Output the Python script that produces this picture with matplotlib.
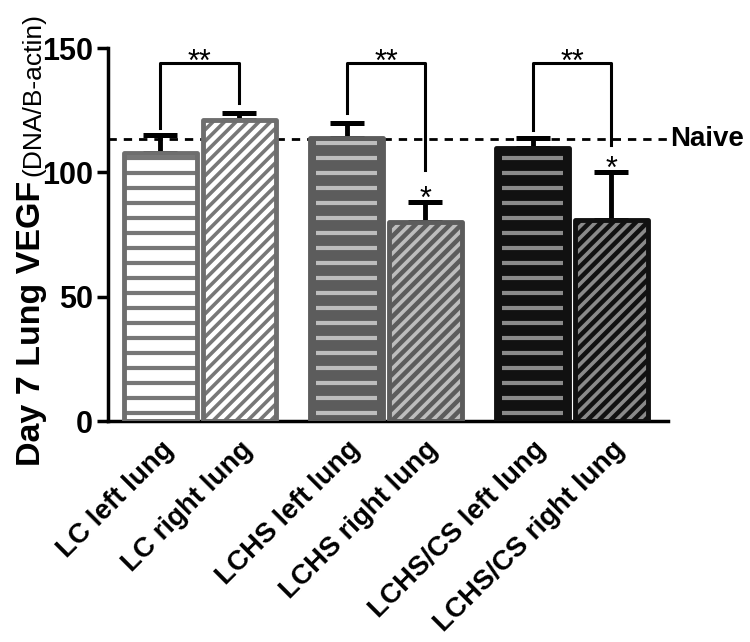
import matplotlib.pyplot as plt
import matplotlib.transforms as mtransforms
import numpy as np

labels = ['LC left lung', 'LC right lung', 'LCHS left lung', 'LCHS right lung',
          'LCHS/CS left lung', 'LCHS/CS right lung']
means = [108, 121, 114, 80, 110, 81]
errs = [7, 3, 6, 8, 4, 19]
naive = 113.5
# brackets: (left bar, right bar, left leg end, right leg end)
brackets = [(0, 1, 118, 128), (2, 3, 124, 101), (4, 5, 117, 111)]
single_star = [3, 5]

x = np.array([0, 1, 2.36, 3.36, 4.72, 5.72])
faces = ['white', 'white', '#5c5c5c', '#5c5c5c', '#111111', '#111111']
hatchcol = ['#777777', '#777777', '#bdbdbd', '#bdbdbd', '#8a8a8a', '#8a8a8a']
edges = ['#6e6e6e', '#6e6e6e', '#5c5c5c', '#5c5c5c', '#111111', '#111111']
diag = [False, True, False, True, False, True]
inset_px = [0, 0, 6, 0, 6, 0]

plt.rcParams['font.family'] = ['Liberation Sans', 'DejaVu Sans']

W, H = 7.5, 6.42
fig = plt.figure(figsize=(W, H), dpi=100)
pos = [0.144, 0.344, 0.747, 0.581]
ax = fig.add_axes(pos)
xlim = (-0.665, 6.44)
ylim = (0, 150)
ax.set_xlim(xlim)
ax.set_ylim(ylim)

# pixels per data unit, used for the hatch spacing
xppu = pos[2] * W * 100 / (xlim[1] - xlim[0])
yppu = pos[3] * H * 100 / (ylim[1] - ylim[0])

w = 0.92
for i in range(6):
    ax.errorbar(x[i], means[i], yerr=[[0], [errs[i]]], fmt='none', ecolor='black',
                elinewidth=3.5, capsize=12.5, capthick=3.6, zorder=1)
    bar = ax.bar(x[i], means[i], w, color=faces[i], linewidth=0, zorder=2).patches[0]
    x0, x1 = x[i] - w / 2, x[i] + w / 2
    if diag[i]:
        k = xppu / yppu
        step = 11.5 / xppu
        for c in np.arange(x0 - means[i] / k, x1, step):
            ln, = ax.plot([c, c + 160 / k], [0, 160], color=hatchcol[i], lw=2.6,
                          solid_capstyle='butt', zorder=2.5)
            ln.set_clip_path(bar)
    else:
        ins = inset_px[i] / xppu
        for yy in np.arange(3.3, means[i], 15 / yppu):
            ln, = ax.plot([x0 + ins, x1 - ins], [yy, yy], color=hatchcol[i], lw=3,
                          solid_capstyle='butt', zorder=2.5)
            ln.set_clip_path(bar)
    ax.bar(x[i], means[i], w, fill=False, edgecolor=edges[i], linewidth=3.5,
           joinstyle='round', zorder=3)

ax.axhline(naive, color='black', ls=(0, (3, 2.5)), lw=2, zorder=0)
ax.text(6.47, naive, 'Naive', fontsize=20, fontweight='bold', va='center', ha='left',
        clip_on=False)

top = 144
for a, b, la, lb in brackets:
    ax.plot([x[a], x[a], x[b], x[b]], [la, top, top, lb], color='black', lw=2.2, zorder=4)
    ax.text((x[a] + x[b]) / 2, top - 3.3, '**', ha='center', va='baseline', fontsize=22)
for i in single_star:
    ax.text(x[i], means[i] + errs[i] - 2.3, '*', ha='center', va='baseline', fontsize=22)

ax.set_yticks([0, 50, 100, 150])
ax.set_xticks(x)
ax.set_xticklabels(labels, rotation=45, ha='right', rotation_mode='anchor',
                   fontsize=20, fontweight='bold')
shift = mtransforms.ScaledTranslation(-6 / 100, 0, fig.dpi_scale_trans)
for t in ax.get_xticklabels():
    t.set_transform(t.get_transform() + shift)
ax.tick_params(axis='x', length=0, pad=11)
ax.tick_params(axis='y', length=8, width=2.5, labelsize=22, pad=3)
for t in ax.get_yticklabels():
    t.set_fontweight('bold')
for s in ['top', 'right']:
    ax.spines[s].set_visible(False)
for s in ['left', 'bottom']:
    ax.spines[s].set_linewidth(2.5)

# y label in two parts: bold, then regular right after it
lab1 = fig.text(40 / 750, 1 - 466 / 642, 'Day 7 Lung VEGF', rotation=90, fontsize=24.5,
                fontweight='bold', rotation_mode='anchor', ha='left', va='baseline')
fig.canvas.draw()
r = fig.canvas.get_renderer()
bb = lab1.get_window_extent(r)
fig.text(40 / 750, (bb.y1 + 5) / (H * 100), '(DNA/B-actin)', rotation=90, fontsize=19,
         rotation_mode='anchor', ha='left', va='baseline')

fig.savefig('out.png', dpi=100)
